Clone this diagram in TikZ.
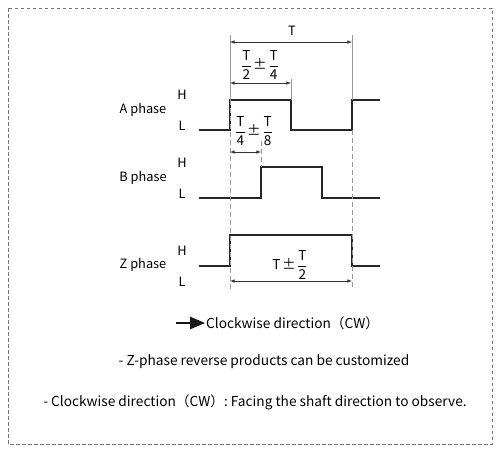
\documentclass[tikz,border=0pt]{standalone}
\usepackage{amsmath}
\usepackage{fontspec}
\setmainfont{Noto Sans CJK SC}
\usetikzlibrary{
    arrows,
    positioning
}
\newcommand{\pfrac}[2]{$\dfrac{\text{#1}}{\text{#2}}$}
\tikzset{
    wave/.style={line width=1.4pt, color=black!85},
    guide/.style={dash pattern=on 5pt off 3pt, line width=0.6pt, color=black!40},
    extline/.style={line width=0.6pt, color=black!40},
    dim/.style={<->, >=latex, line width=0.6pt, color=black!80},
    lbl/.style={font=\fontsize{12.8}{15}\selectfont, inner sep=0pt},
    note/.style={font=\fontsize{13.7}{16}\selectfont, inner sep=0pt},
    frac/.style={font=\fontsize{13.6}{15}\selectfont, inner sep=0pt}
}

\begin{document}
\begin{tikzpicture}[x=1pt, y=-1pt]
    \useasboundingbox (0, 0) rectangle (500, 453);
    \draw[dash pattern=on 3.5pt off 2.5pt, line width=0.6pt, color=black!55] (8, 8) rectangle (492, 444);

    % phase names and levels
    \node[lbl] (nameA) at (143, 110) {A phase};
    \node[lbl] (hA) at (182, 95) {H};
    \node[lbl] (lA) at (182, 126) {L};
    \node[lbl] (nameB) at (143, 178) {B phase};
    \node[lbl] (hB) at (182, 163) {H};
    \node[lbl] (lB) at (182, 194) {L};
    \node[lbl] (nameZ) at (143, 265) {Z phase};
    \node[lbl] (hZ) at (182, 251) {H};
    \node[lbl] (lZ) at (182, 282) {L};

    % waveforms
    \draw[wave] (199, 130) -- (230, 130) -- (230, 100) -- (291, 100) -- (291, 130)
        -- (352, 130) -- (352, 100) -- (380, 100);
    \draw[wave] (199, 198) -- (261, 198) -- (261, 167) -- (322, 167) -- (322, 198) -- (380, 198);
    \draw[wave] (199, 266) -- (230, 266) -- (230, 235) -- (352, 235) -- (352, 266) -- (380, 266);

    % guides
    \coordinate (tL) at (230, 35);
    \coordinate (tR) at (352, 35);
    \coordinate (hfR) at (291, 79);
    \coordinate (qR) at (261, 141);
    \draw[extline] (tL) -- (230, 100);
    \draw[extline] (tR) -- (352, 100);
    \draw[extline] (hfR) -- (291, 100);
    \draw[guide] (230, 100) -- (230, 290);
    \draw[guide] (352, 130) -- (352, 290);
    \draw[guide] (qR) -- (261, 167);

    % dimensions
    \coordinate (t1) at (230, 42);
    \coordinate (t2) at (352, 42);
    \coordinate (h1) at (230, 83);
    \coordinate (h2) at (291, 83);
    \coordinate (q1) at (230, 152);
    \coordinate (q2) at (261, 152);
    \coordinate (z1) at (230, 281);
    \coordinate (z2) at (352, 281);
    \draw[dim] (t1) -- (t2);
    \draw[dim] (h1) -- (h2);
    \draw[dim] (q1) -- (q2);
    \draw[dim] (z1) -- (z2);
    \node[lbl] (perT) at (292, 31) {T};
    \node[frac] (perH) at (260, 65) {\pfrac{T}{2}\hspace{1.5pt}±\hspace{1.5pt}\pfrac{T}{4}};
    \node[frac] (perQ) at (254, 131) {\pfrac{T}{4}\hspace{1.5pt}±\hspace{1.5pt}\pfrac{T}{8}};
    \node[frac] (perZ) at (290, 265) {T\hspace{1.5pt}±\hspace{1.5pt}\pfrac{T}{2}};

    % notes
    \coordinate (cwtail) at (176, 323);
    \node[note, anchor=west] (cwtext) at (206, 323) {Clockwise direction（CW）};
    \draw[-triangle 45, line width=2.5pt, color=black!90] (cwtail) -- ([xshift=-1pt]cwtext.west);
    \node[note] (noteZ) at (264, 362) {- Z-phase reverse products can be customized};
    \node[note] (noteCW) at (255, 402) {- Clockwise direction（CW）: Facing the shaft direction to observe.};
\end{tikzpicture}
\end{document}
